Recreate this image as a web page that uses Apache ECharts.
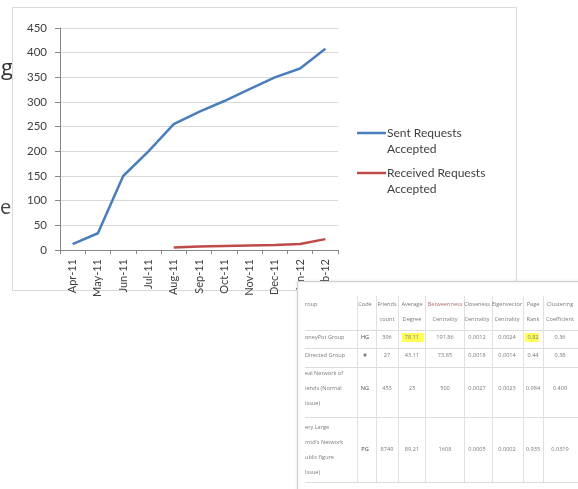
<!DOCTYPE html>
<html>
<head>
<meta charset="utf-8">
<script src="https://cdn.jsdelivr.net/npm/echarts@6/dist/echarts.min.js"></script>
<style>html,body{margin:0;padding:0;background:#fff}#c{width:578px;height:489px}</style>
</head>
<body>
<div id="c"></div>
<script>
// ---- chart data ----
const months = ['Apr-11','May-11','Jun-11','Jul-11','Aug-11','Sep-11','Oct-11','Nov-11','Dec-11','Jan-12','Feb-12'];
const sentAccepted = [12, 34, 150, 200, 255, 280, 302, 326, 350, 368, 408];
const receivedAccepted = [null, null, null, null, 5, 7, 8, 9, 10, 12, 22];
const seriesNames = ['Sent Requests\nAccepted', 'Received Requests\nAccepted'];
const yMin = 0, yMax = 450, yStep = 50;

// ---- table (inset picture) text ----
const tableHeader1 = ['roup', 'Code', 'Friends', 'Average', 'Betweenness', 'Closeness', 'Eigenvector', 'Page', 'Clustering'];
const tableHeader2 = ['', '', 'count', 'Degree', 'Centrality', 'Centrality', 'Centrality', 'Rank', 'Coefficient'];
const tableGroupLabels = [['oneyPot Group'], ['Directed Group'], ['eal Network of', 'iends (Normal', 'Issue)'], ['ery Large', 'mtd\'s Network', 'ublic figure', 'Issue)']];
const tableCodes = ['HG', '#', 'NG', 'PG'];
const tableFriends = ['396', '27', '453', '8749'];
const tableDegree = ['78.11', '43.11', '23', '89.21'];
const tableBetweenness = ['191.86', '73.85', '500', '1608'];
const tableCloseness = ['0.0012', '0.0018', '0.0027', '0.0005'];
const tableEigen = ['0.0024', '0.0014', '0.0023', '0.0002'];
const tablePageRank = ['0.82', '0.44', '0.984', '0.935'];
const tableClustering = ['0.36', '0.38', '0.409', '0.0319'];

// ---- build table graphics ----
const colX = [305, 365, 387, 412, 445, 477, 507, 533, 560];
const rowValueY = [337, 355, 388, 449];
const rowLabelY = [[337], [355], [373, 388, 403], [427, 442, 457, 472]];
const hLines = [330, 348, 367, 417, 482];
const vLines = [357, 376, 398, 425, 464, 492, 523, 543];
const tColor = '#7a7a7a';
const tFont = '"Open Sans", Lato, sans-serif';
const tableEls = [];
tableEls.push({type:'rect', shape:{x:297.5, y:281.5, width:290, height:215}, style:{fill:'#fff', stroke:'#d0d0d0', lineWidth:1, shadowBlur:3, shadowColor:'rgba(0,0,0,0.15)'}, z:100});
// highlights
tableEls.push({type:'rect', shape:{x:402, y:333, width:22, height:9}, style:{fill:'#ffff55'}, z:101});
tableEls.push({type:'rect', shape:{x:525, y:333, width:14, height:9}, style:{fill:'#ffff55'}, z:101});
hLines.forEach(y => tableEls.push({type:'line', shape:{x1:305, y1:y+0.5, x2:578, y2:y+0.5}, style:{stroke:'#dcdcdc', lineWidth:1}, z:101}));
vLines.forEach(x => tableEls.push({type:'line', shape:{x1:x+0.5, y1:296, x2:x+0.5, y2:482}, style:{stroke:'#e0e0e0', lineWidth:1}, z:101}));
function tText(txt, x, y, align, color) {
  tableEls.push({type:'text', x:x, y:y, style:{text:txt, fill:color || tColor, font:'5.6px ' + tFont, align:align, verticalAlign:'middle'}, z:102});
}
tableHeader1.forEach((t, i) => tText(t, colX[i], 304, i === 0 ? 'left' : 'center', i === 4 ? '#b07070' : tColor));
tableHeader2.forEach((t, i) => tText(t, colX[i], 319, i === 0 ? 'left' : 'center'));
const valueCols = [tableCodes, tableFriends, tableDegree, tableBetweenness, tableCloseness, tableEigen, tablePageRank, tableClustering];
tableGroupLabels.forEach((lines, r) => lines.forEach((l, k) => tText(l, colX[0], rowLabelY[r][k], 'left')));
valueCols.forEach((col, c) => col.forEach((v, r) => tText(v, colX[c + 1], rowValueY[r], 'center', c === 0 ? '#444' : tColor)));

const chart = echarts.init(document.getElementById('c'), null, {renderer:'canvas'});
const labelFont = 'Lato, "Open Sans", sans-serif';
chart.setOption({
  backgroundColor: '#ffffff',
  animation: false,
  grid: {left: 60, right: 240, top: 28, bottom: 239, containLabel: false},
  legend: {
    left: 357, top: 125, orient: 'vertical', padding: 0, itemGap: 8,
    itemWidth: 29, itemHeight: 19,
    icon: 'path://M0,0H30V2.6H0Z M0,19H30V19.01H0Z',
    itemStyle: {borderWidth: 0},
    textStyle: {fontFamily: labelFont, fontSize: 12, color: '#404040', lineHeight: 16, padding: [0, 0, 0, -4]},
    data: seriesNames
  },
  xAxis: {
    type: 'category', data: months, boundaryGap: true,
    axisLine: {show: true, lineStyle: {color: '#868686', width: 1}},
    axisTick: {show: true, length: 4, lineStyle: {color: '#868686'}},
    axisLabel: {rotate: 90, margin: 9, fontFamily: labelFont, fontSize: 11, color: '#404040', interval: 0},
    splitLine: {show: false}
  },
  yAxis: {
    type: 'value', min: yMin, max: yMax, interval: yStep,
    axisLine: {show: true, lineStyle: {color: '#868686', width: 1}},
    axisTick: {show: true, length: 5, lineStyle: {color: '#868686'}},
    axisLabel: {margin: 13, fontFamily: labelFont, fontSize: 11.5, color: '#404040'},
    splitLine: {show: true, lineStyle: {color: '#d9d9d9', width: 1}}
  },
  series: [
    {name: seriesNames[0], type: 'line', data: sentAccepted, symbol: 'none', color: '#4a7ebb',
     lineStyle: {width: 2.5, color: '#4a7ebb'}, z: 3},
    {name: seriesNames[1], type: 'line', data: receivedAccepted, symbol: 'none', color: '#be4b48',
     lineStyle: {width: 2.5, color: '#be4b48'}, z: 3}
  ],
  graphic: [
    {type:'rect', shape:{x:12.5, y:7.5, width:504, height:283}, style:{fill:'none', stroke:'#d9d9d9', lineWidth:1}, z:-1, silent:true},
    {type:'text', x:1, y:58, style:{text:'g', fill:'#333', font:'22px "Open Sans", sans-serif'}, z:-2},
    {type:'text', x:0, y:198, style:{text:'e', fill:'#444', font:'20px "Open Sans", sans-serif'}, z:-2}
  ].concat(tableEls)
});
</script>
</body>
</html>
